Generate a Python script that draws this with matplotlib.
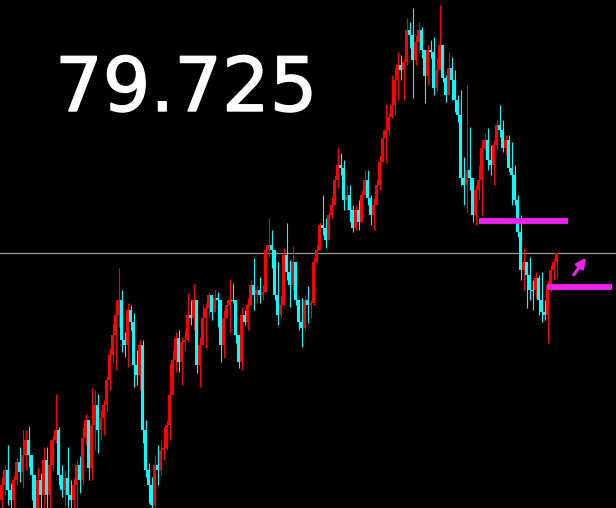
import matplotlib
matplotlib.use("Agg")
import matplotlib.pyplot as plt
import matplotlib.patheffects as pe
import numpy as np

# candle data: values are chart rows (0 = top edge,
# 508 = bottom edge), so a smaller number means a higher price.
# open of each candle = close of the one before it
first_open = 500

highs = [477, 465, 445, 483, 475, 458, 447, 430, 430, 426,
         455, 495, 467, 473, 447, 447, 440, 435, 394, 427,
         465, 470, 447, 480, 478, 460, 456, 427, 414, 420,
         388, 390, 394, 410, 400, 376, 348, 323, 300, 268,
         290, 332, 303, 305, 313, 350, 340, 340, 420, 463,
         477, 455, 445, 440, 427, 420, 363, 350, 332, 330,
         337, 330, 293, 300, 284, 300, 337, 305, 303, 292,
         295, 290, 292, 305, 310, 300, 279, 283, 300, 340,
         307, 310, 298, 280, 258, 285, 277, 285, 245, 218,
         230, 253, 262, 295, 248, 223, 260, 246, 262, 303,
         298, 295, 286, 300, 257, 245, 222, 195, 218, 212,
         197, 175, 147, 153, 160, 185, 185, 205, 205, 200,
         190, 170, 170, 195, 198, 180, 155, 130, 104, 113,
         75, 68, 52, 55, 58, 18, 22, 8, 35, 22,
         27, 70, 45, 40, 37, 58, 5, 45, 75, 52,
         57, 70, 95, 90, 157, 85, 127, 180, 185, 165,
         140, 133, 128, 145, 140, 120, 105, 120, 135, 135,
         142, 165, 195, 215, 248, 262, 257, 280, 272, 275,
         272, 300, 280, 265, 258, 252]

lows = [508, 495, 505, 508, 508, 485, 482, 488, 470, 467,
        500, 515, 515, 510, 510, 510, 510, 470, 443, 485,
        497, 505, 507, 508, 510, 508, 493, 485, 445, 480,
        480, 450, 453, 440, 435, 412, 390, 362, 370, 327,
        352, 357, 367, 330, 387, 385, 390, 443, 477, 503,
        510, 508, 485, 475, 460, 450, 440, 375, 372, 372,
        385, 350, 342, 325, 330, 373, 387, 325, 348, 317,
        320, 305, 327, 362, 358, 318, 333, 303, 343, 368,
        370, 325, 330, 300, 310, 303, 303, 300, 290, 257,
        268, 300, 325, 318, 298, 280, 307, 290, 305, 330,
        347, 330, 323, 318, 305, 263, 250, 235, 248, 235,
        218, 190, 188, 175, 210, 210, 222, 232, 230, 230,
        222, 195, 205, 225, 230, 205, 190, 160, 163, 135,
        118, 115, 100, 80, 100, 65, 48, 98, 65, 52,
        58, 103, 85, 58, 95, 92, 70, 82, 102, 90,
        100, 112, 122, 185, 205, 212, 190, 222, 225, 200,
        215, 150, 170, 175, 185, 150, 137, 152, 155, 172,
        205, 205, 237, 280, 290, 308, 300, 310, 298, 315,
        322, 320, 343, 292, 280, 278]

closes = [485, 470, 490, 500, 480, 462, 472, 455, 440, 455,
          475, 508, 480, 495, 460, 495, 465, 440, 430, 475,
          490, 478, 495, 500, 485, 465, 480, 438, 420, 468,
          425, 405, 430, 418, 405, 380, 355, 335, 315, 300,
          340, 345, 310, 322, 365, 375, 345, 430, 470, 485,
          505, 465, 470, 450, 448, 425, 395, 360, 338, 362,
          342, 340, 315, 318, 300, 365, 345, 318, 308, 295,
          312, 298, 300, 345, 318, 305, 300, 300, 335, 362,
          315, 322, 305, 285, 295, 290, 295, 292, 250, 245,
          250, 295, 315, 305, 255, 272, 285, 262, 300, 322,
          328, 300, 305, 303, 262, 250, 225, 228, 240, 215,
          205, 180, 165, 168, 200, 195, 210, 228, 210, 222,
          195, 180, 198, 215, 205, 185, 162, 138, 130, 117,
          105, 80, 65, 70, 62, 30, 35, 60, 42, 30,
          50, 76, 50, 52, 88, 70, 45, 78, 95, 68,
          80, 100, 115, 178, 185, 170, 178, 215, 190, 180,
          148, 140, 160, 165, 145, 125, 130, 148, 140, 168,
          175, 200, 232, 270, 262, 275, 290, 290, 278, 300,
          312, 315, 285, 270, 262, 253]

# current bid shown in the corner
bid_text = "79.725"

# hand drawn levels: (row, first candle, last candle)
levels = [(220.5, 159.2, 188.8),
          (287.0, 181.8, 203.5)]
# hand drawn arrow: (from candle, from row, to candle, to row)
arrow = (190.2, 277.0, 195.4, 255.5)

UP_COLOR = "#ff0000"
DOWN_COLOR = "#00ffff"
MARK_COLOR = "#ee22ee"

fig = plt.figure(figsize=(6.16, 5.08), dpi=100, facecolor="black")
ax = fig.add_axes([0, 0, 1, 1])
ax.set_facecolor("black")

n = len(closes)
idx = np.arange(n)
c = np.array(closes, dtype=float)
o = np.concatenate([[first_open], c[:-1]])
hi = np.minimum(np.array(highs, dtype=float), np.minimum(o, c))
lo = np.maximum(np.array(lows, dtype=float), np.maximum(o, c))

# red = price went up (row got smaller)
up = c < o
colors = np.where(up, UP_COLOR, DOWN_COLOR)

ax.vlines(idx, hi, lo, colors=colors, linewidth=0.8, zorder=2)
body_bottom = np.minimum(o, c)
body_h = np.maximum(np.abs(c - o), 1.0)
ax.bar(idx, body_h, bottom=body_bottom, width=0.72, color=colors,
       linewidth=0, zorder=3)

# bid line
ax.axhline(closes[-1], color="#9a9a9a", linewidth=0.9, zorder=1)

# support / resistance marks
for row, x0, x1 in levels:
    ax.hlines(row, x0, x1, colors=MARK_COLOR, linewidth=4.2, zorder=4)

ax.annotate("", xy=(arrow[2], arrow[3]), xytext=(arrow[0], arrow[1]),
            arrowprops=dict(arrowstyle="-|>", color=MARK_COLOR, lw=2.2,
                            mutation_scale=14), zorder=5)

ax.set_xlim(-0.5, 616 / 3 - 0.5)
ax.set_ylim(508, 0)
ax.axis("off")

# big bid number, slightly heavier than plain DejaVu
fig.text(55 / 616, 1 - 111 / 508, bid_text, color="white", fontsize=54,
         family="DejaVu Sans", va="baseline", ha="left",
         path_effects=[pe.withStroke(linewidth=1.0, foreground="white")])

fig.savefig("out.png", dpi=100, facecolor="black")
